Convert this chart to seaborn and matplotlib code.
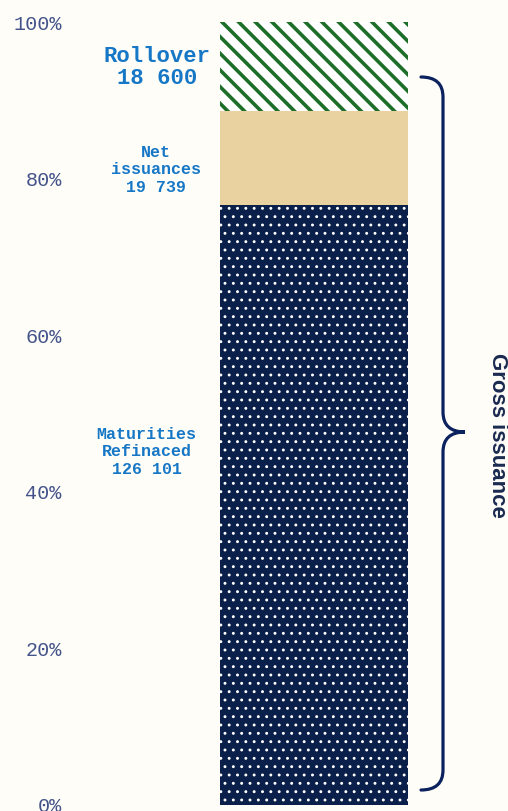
import numpy as np
import pandas as pd
import matplotlib
matplotlib.use("Agg")
import matplotlib.pyplot as plt
import seaborn as sns
from matplotlib.path import Path
from matplotlib.patches import PathPatch
from matplotlib.transforms import Affine2D

# --- DATA ---
segments = ["Maturities\nRefinaced", "Net\nissuances", "Rollover"]
amounts = [126101, 19739, 18600]
amount_labels = ["126 101", "19 739", "18 600"]
tick_values = [0, 0.2, 0.4, 0.6, 0.8, 1.0]
tick_labels = ["0%", "20%", "40%", "60%", "80%", "100%"]
bracket_label = "Gross issuance"

# --- STYLE ---
sns.set_style("white")
bg = "#fefdf8"
W, H = 508, 811
fig = plt.figure(figsize=(W / 100, H / 100), dpi=100, facecolor=bg)
ax = fig.add_axes([220 / W, 6 / H, 188 / W, 783 / H])
ax.set_facecolor(bg)

shares = np.array(amounts) / sum(amounts)
cum = np.cumsum(shares)
fills = ["#0b1f4b", "#ead2a0", "white"]
hatch_cols = ["white", "#e3c68f", "#1c6e28"]
hatches = ["..", "", "\\\\"]
hatch_lw = [0.9, 0.5, 2.6]

# draw from the top layer down so each cumulative bar sits behind the one below
for i in reversed(range(len(segments))):
    plt.rcParams["hatch.linewidth"] = hatch_lw[i]
    df = pd.DataFrame({"grp": ["Gross"], "share": [cum[i]]})
    sns.barplot(data=df, x="grp", y="share", width=1, color=fills[i],
                saturation=1, ax=ax, errorbar=None)
    p = ax.patches[-1]
    p.set_hatch(hatches[i])
    p.set_edgecolor(hatch_cols[i])
    p.set_linewidth(0)
    if hasattr(p, "set_hatch_linewidth"):
        p.set_hatch_linewidth(hatch_lw[i])

ax.set_xlim(-0.5, 0.5)
ax.set_ylim(0, 1)
ax.set_xlabel("")
ax.set_ylabel("")
ax.set_xticks([])
ax.set_yticks(tick_values)
ax.set_yticklabels(tick_labels, family="Liberation Mono", fontsize=14.5, color="#44548a")
ax.tick_params(axis="y", length=0, pad=114)
sns.despine(ax=ax, left=True, bottom=True)

# segment labels
lab_x = [-0.39, -0.34, -0.335]
lab_y = [0.451, 0.811, 0.942]
lab_size = [12, 12, 16]
lab_ls = [1.2, 1.2, 1.04]
for i in range(len(segments)):
    ax.text(lab_x[i], lab_y[i], segments[i] + "\n" + amount_labels[i],
            transform=ax.get_yaxis_transform(), ha="center", va="center",
            family="Liberation Mono", weight="bold", fontsize=lab_size[i],
            color="#1677c6", linespacing=lab_ls[i], clip_on=False)

# curly bracket on the right
px = Affine2D().scale(1 / W, -1 / H).translate(0, 1) + fig.transFigure
verts = [(421, 77), (443, 77), (443, 97),
         (443, 412),
         (443, 432), (465, 432),
         (443, 432), (443, 452),
         (443, 770),
         (443, 790), (421, 790)]
codes = [Path.MOVETO, Path.CURVE3, Path.CURVE3,
         Path.LINETO,
         Path.CURVE3, Path.CURVE3,
         Path.CURVE3, Path.CURVE3,
         Path.LINETO,
         Path.CURVE3, Path.CURVE3]
fig.patches.append(PathPatch(Path(verts, codes), fill=False, lw=2.3,
                             edgecolor="#0c225f", transform=px, capstyle="round"))
fig.text(497 / W, 1 - 435 / H, bracket_label, rotation=-90, ha="center", va="center",
         family="Liberation Sans", weight="bold", fontsize=16, color="#1a2a50")

fig.savefig("out.png", dpi=100, facecolor=bg)
